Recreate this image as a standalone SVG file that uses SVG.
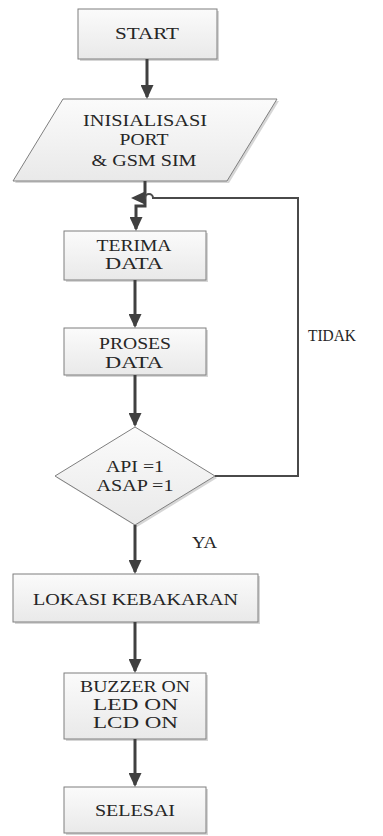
<svg xmlns="http://www.w3.org/2000/svg" width="383" height="836" viewBox="0 0 383 836">
<style>
.box{fill:url(#g);stroke:#7f7f7f;stroke-width:1}
.sh{fill:#d6d6d6}
.t{font-family:"Liberation Serif","Times New Roman",serif;font-size:16.5px;fill:#262626;text-anchor:middle}
.tl{font-family:"Liberation Serif","Times New Roman",serif;font-size:16.5px;fill:#262626}
.c{fill:none;stroke:#404040;stroke-width:3}
.l{fill:none;stroke:#4a4a4a;stroke-width:2}
</style>
<defs>
<linearGradient id="g" x1="0" y1="0" x2="0" y2="1">
<stop offset="0" stop-color="#fbfbfb"/>
<stop offset="1" stop-color="#e9e9e9"/>
</linearGradient>
<marker id="a" viewBox="0 0 14 13" refX="12" refY="6.5" markerWidth="14" markerHeight="13" markerUnits="userSpaceOnUse" orient="auto">
<path d="M0,0 L14,6.5 L0,13 z" fill="#404040"/>
</marker>
</defs>
<rect width="383" height="836" fill="#fff"/>
<g id="start">
<rect class="sh" x="80" y="11" width="139" height="50"/>
<rect class="box" x="78" y="9" width="139" height="50"/>
<text class="t" x="147" y="39" textLength="64" lengthAdjust="spacingAndGlyphs">START</text>
</g>
<g id="init">
<polygon class="sh" points="65,101 279,101 229,183 15,183"/>
<polygon class="box" points="63,99 277,99 227,181 13,181"/>
<text class="t" x="145" y="126" textLength="124" lengthAdjust="spacingAndGlyphs">INISIALISASI</text>
<text class="t" x="144" y="145" textLength="49" lengthAdjust="spacingAndGlyphs">PORT</text>
<text class="t" x="144" y="165.5" textLength="105" lengthAdjust="spacingAndGlyphs">&amp; GSM SIM</text>
</g>
<g id="terima">
<rect class="sh" x="66" y="233" width="142" height="49"/>
<rect class="box" x="64" y="231" width="142" height="49"/>
<text class="t" x="134" y="251" textLength="75" lengthAdjust="spacingAndGlyphs">TERIMA</text>
<text class="t" x="134" y="269" textLength="58" lengthAdjust="spacingAndGlyphs">DATA</text>
</g>
<g id="proses">
<rect class="sh" x="66" y="330" width="142" height="47"/>
<rect class="box" x="64" y="328" width="142" height="47"/>
<text class="t" x="135" y="349" textLength="72" lengthAdjust="spacingAndGlyphs">PROSES</text>
<text class="t" x="134" y="368" textLength="58" lengthAdjust="spacingAndGlyphs">DATA</text>
</g>
<g id="decision">
<polygon class="sh" points="137,429 217,478 137,527 57,478"/>
<polygon class="box" points="135,427 215,476 135,525 55,476"/>
<text class="t" x="135" y="472" textLength="58" lengthAdjust="spacingAndGlyphs">API =1</text>
<text class="t" x="135" y="490.5" textLength="77" lengthAdjust="spacingAndGlyphs">ASAP =1</text>
</g>
<g id="lokasi">
<rect class="sh" x="15" y="576" width="245" height="48"/>
<rect class="box" x="13" y="574" width="245" height="48"/>
<text class="t" x="135.5" y="605" textLength="205" lengthAdjust="spacingAndGlyphs">LOKASI KEBAKARAN</text>
</g>
<g id="buzzer">
<rect class="sh" x="66" y="675" width="142" height="66"/>
<rect class="box" x="64" y="673" width="142" height="66"/>
<text class="t" x="135" y="692" textLength="110" lengthAdjust="spacingAndGlyphs">BUZZER ON</text>
<text class="t" x="135.5" y="710" textLength="85" lengthAdjust="spacingAndGlyphs">LED ON</text>
<text class="t" x="135.5" y="728" textLength="85" lengthAdjust="spacingAndGlyphs">LCD ON</text>
</g>
<g id="selesai">
<rect class="sh" x="66" y="789" width="142" height="46"/>
<rect class="box" x="64" y="787" width="142" height="46"/>
<text class="t" x="135" y="816" textLength="80" lengthAdjust="spacingAndGlyphs">SELESAI</text>
</g>
<g id="connectors">
<path class="c" d="M147,59 V97" marker-end="url(#a)"/>
<path class="c" d="M145,181 V206 H136 V229" marker-end="url(#a)"/>
<path class="l" d="M215,476 H298 V198 H153 A4,4 0 0 0 145,198 H133" marker-end="url(#a)"/>
<path class="c" d="M135,280 V326" marker-end="url(#a)"/>
<path class="c" d="M135,375 V425" marker-end="url(#a)"/>
<path class="c" d="M135,525 V572" marker-end="url(#a)"/>
<path class="c" d="M135,622 V671" marker-end="url(#a)"/>
<path class="c" d="M135,739 V785" marker-end="url(#a)"/>
</g>
<g id="labels">
<text class="tl" x="308" y="341" textLength="48" lengthAdjust="spacingAndGlyphs">TIDAK</text>
<text class="tl" x="192" y="548" textLength="25" lengthAdjust="spacingAndGlyphs">YA</text>
</g>
</svg>
